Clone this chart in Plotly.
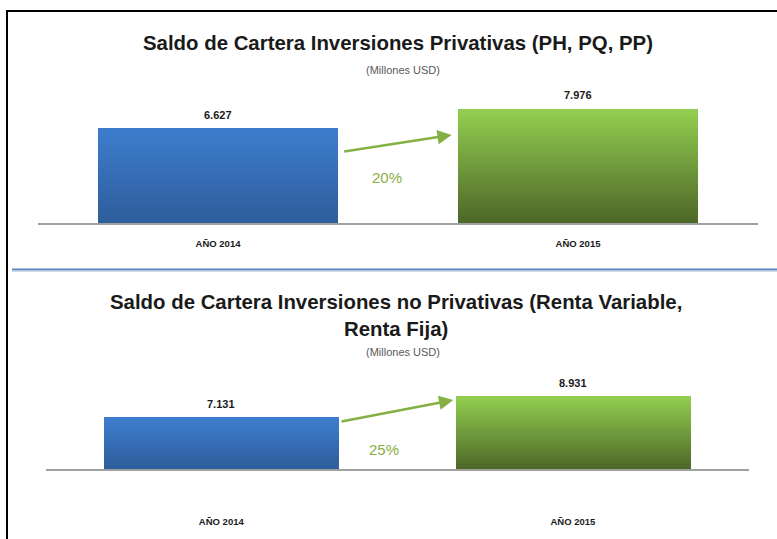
import plotly.graph_objects as go

W, H = 777, 539

categories = ["AÑO 2014", "AÑO 2015"]
privativas = [6627, 7976]
no_privativas = [7131, 8931]
privativas_text = ["6.627", "7.976"]
no_privativas_text = ["7.131", "8.931"]
growth = ["20%", "25%"]
title_top = "Saldo de Cartera Inversiones Privativas (PH, PQ, PP)"
title_bottom = "Saldo de Cartera Inversiones no Privativas (Renta Variable,<br>Renta Fija)"
subtitle = "(Millones USD)"


def px(x):
    return x / W


def py(y):
    return 1 - y / H


def lerp(c1, c2, t):
    a = [int(c1[i:i + 2], 16) for i in (1, 3, 5)]
    b = [int(c2[i:i + 2], 16) for i in (1, 3, 5)]
    return "rgb(%d,%d,%d)" % tuple(round(a[k] + (b[k] - a[k]) * t) for k in range(3))


BLUE = ("#2E5D9B", "#3D7DCD")
GREEN = ("#4D6627", "#93CF50")
N = 30
TITLE_FONT = dict(family="Liberation Sans, Arial", size=20.4, color="#1a1a1a")

fig = go.Figure()
ann = []


def add_bars(values, texts, xa, ya, base0):
    for i in range(N):
        t = (i + 0.5) / N
        fig.add_trace(go.Bar(
            x=categories,
            y=[(v - base0) / N for v in values],
            base=[base0 + (v - base0) * i / N for v in values],
            marker=dict(color=[lerp(BLUE[0], BLUE[1], t), lerp(GREEN[0], GREEN[1], t)],
                        line=dict(width=0)),
            width=0.668, xaxis=xa, yaxis=ya, showlegend=False, hoverinfo="skip",
        ))
    for c, v, s in zip(categories, values, texts):
        ann.append(dict(x=c, y=v, xref=xa, yref=ya, text="<b>%s</b>" % s, showarrow=False,
                        xanchor="center", yanchor="bottom", yshift=6,
                        font=dict(family="Liberation Sans, Arial", size=11, color="#1a1a1a")))


add_bars(privativas, privativas_text, "x", "y", 0)
add_bars(no_privativas, no_privativas_text, "x2", "y2", 2700)

xcommon = dict(type="category", showgrid=False, zeroline=False, showline=True,
               linecolor="#A0A0A0", linewidth=2, ticks="",
               tickfont=dict(family="Liberation Sans, Arial", size=9.5, color="#1a1a1a"),
               range=[-0.5, 1.5])
ycommon = dict(visible=False, showgrid=False, zeroline=False)

fig.update_layout(
    width=W, height=H, margin=dict(l=0, r=0, t=0, b=0),
    paper_bgcolor="white", plot_bgcolor="rgba(0,0,0,0)",
    barmode="overlay", bargap=0,
    xaxis=dict(**xcommon, domain=[px(38), px(758)], anchor="y", ticklabelstandoff=10),
    yaxis=dict(**ycommon, domain=[py(223.3), py(90.3)], range=[0, 9300], anchor="x"),
    xaxis2=dict(**xcommon, domain=[px(45.5), px(748.7)], anchor="y2", ticklabelstandoff=42),
    yaxis2=dict(**ycommon, domain=[py(469.3), py(370.1)], range=[2700, 11200], anchor="x2"),
)

fig.update_xaxes(tickvals=categories, ticktext=["<b>%s</b>" % c for c in categories])

ann.append(dict(x=px(398), y=py(43), xref="paper", yref="paper", text="<b>%s</b>" % title_top,
                showarrow=False, font=TITLE_FONT, xanchor="center", yanchor="middle"))
ann.append(dict(x=px(403), y=py(70), xref="paper", yref="paper", text=subtitle,
                showarrow=False, font=dict(family="Liberation Sans, Arial", size=11, color="#595959"),
                xanchor="center", yanchor="middle"))
ann.append(dict(x=px(396), y=py(315.5), xref="paper", yref="paper", text="<b>%s</b>" % title_bottom,
                showarrow=False, font=TITLE_FONT, xanchor="center", yanchor="middle", align="center"))
ann.append(dict(x=px(403), y=py(352), xref="paper", yref="paper", text=subtitle,
                showarrow=False, font=dict(family="Liberation Sans, Arial", size=11, color="#595959"),
                xanchor="center", yanchor="middle"))

ARROW = "#84B044"
for (tip, tail, lab, labpos) in [((451.7, 135.0), (342.7, 151.7), growth[0], (386.7, 177)),
                                 ((453.3, 400.0), (340.0, 421.7), growth[1], (384.0, 449))]:
    ann.append(dict(x=px(tip[0]), y=py(tip[1]), xref="paper", yref="paper", text="",
                    showarrow=True, ax=tail[0] - tip[0], ay=tail[1] - tip[1],
                    arrowcolor=ARROW, arrowwidth=2.6, arrowhead=2, arrowsize=1.1, standoff=0))
    ann.append(dict(x=px(labpos[0]), y=py(labpos[1]), xref="paper", yref="paper", text=lab,
                    showarrow=False, font=dict(family="Liberation Sans, Arial", size=15, color="#8AAE45"),
                    xanchor="center", yanchor="middle"))
fig.update_layout(annotations=ann)

shapes = [
    dict(type="line", xref="paper", yref="paper", x0=px(6), x1=1, y0=py(11), y1=py(11),
         line=dict(color="black", width=2)),
    dict(type="line", xref="paper", yref="paper", x0=px(7), x1=px(7), y0=py(10), y1=0,
         line=dict(color="black", width=2)),
    dict(type="line", xref="paper", yref="paper", x0=px(12), x1=1, y0=py(271.5), y1=py(271.5),
         line=dict(color="#D0DAE8", width=1)),
    dict(type="line", xref="paper", yref="paper", x0=px(12), x1=1, y0=py(269.5), y1=py(269.5),
         line=dict(color="#5B87C0", width=2)),
]
fig.update_layout(shapes=shapes)

fig.write_html("out.html", config={"displayModeBar": False},
               post_script="document.body.style.margin='0';document.body.style.overflow='hidden';")
